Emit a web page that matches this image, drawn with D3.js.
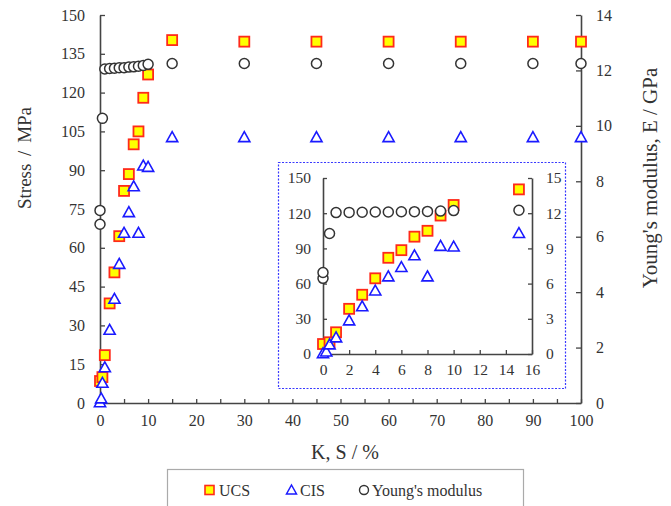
<!DOCTYPE html>
<html><head><meta charset="utf-8">
<script src="https://cdn.jsdelivr.net/npm/d3@7"></script>
<style>
html,body{margin:0;padding:0;background:#fff;}
svg{display:block;}
svg text{font-family:"Liberation Serif","Times New Roman",serif !important;fill:#333;}
</style></head>
<body>
<script>
// ---- data ----
const ucsK = [0, 0.5, 1, 2, 3, 4, 5, 6, 7, 8, 9, 10, 15, 30, 45, 60, 75, 90, 100];
const ucsV = [8.5, 10, 18.5, 38.5, 50.5, 64.5, 82, 88.5, 100, 105, 118, 127, 140.3, 139.7, 139.7, 139.7, 139.7, 139.7, 139.7];
const cisK = [0, 0.25, 0.5, 1, 2, 3, 4, 5, 6, 7, 8, 9, 10, 15, 30, 45, 60, 75, 90, 100];
const cisV = [0, 1.5, 7.5, 13.5, 28, 40, 53.5, 65.5, 73.5, 83.5, 65.5, 91.5, 91, 102.5, 102.5, 102.5, 102.5, 102.5, 102.5, 102.5];
const eK = [0, 0, 0.5, 1, 2, 3, 4, 5, 6, 7, 8, 9, 10, 15, 30, 45, 60, 75, 90, 100];
const eV = [6.45, 6.95, 10.27, 12.05, 12.07, 12.08, 12.1, 12.1, 12.12, 12.13, 12.15, 12.18, 12.22, 12.25, 12.25, 12.25, 12.25, 12.25, 12.25, 12.25];
const xTicksMain = [0, 10, 20, 30, 40, 50, 60, 70, 80, 90, 100];
const yTicksMain = [0, 15, 30, 45, 60, 75, 90, 105, 120, 135, 150];
const rTicksMain = [0, 2, 4, 6, 8, 10, 12, 14];
const xTicksInset = [0, 2, 4, 6, 8, 10, 12, 14, 16];
const yTicksInset = [0, 30, 60, 90, 120, 150];
const rTicksInset = [0, 3, 6, 9, 12, 15];
const legendLabels = ["UCS", "CIS", "Young's modulus"];
const xTitle = "K, S / %";
const yTitle = "Stress / MPa";
const rTitle = "Young's modulus, E / GPa";

const W = 671, H = 506;
const SERIF = '"Liberation Serif","Times New Roman",serif';
const svg = d3.select("body").append("svg").attr("width", W).attr("height", H)
  .style("font-family", SERIF);

const ucs = ucsK.map((k, i) => ({k, v: ucsV[i]}));
const cis = cisK.map((k, i) => ({k, v: cisV[i]}));
const ym = eK.map((k, i) => ({k, v: eV[i]}));

const AX = "#444";
function styleAxis(g, fs) {
  g.attr("font-family", SERIF).style("font-family", SERIF);
  g.select(".domain").attr("stroke", AX).attr("stroke-width", 1.6);
  g.selectAll(".tick line").attr("stroke", AX).attr("stroke-width", 1.3);
  g.selectAll(".tick text").attr("font-size", fs).style("font-size", fs + "px").attr("fill", "#333")
    .style("font-family", SERIF);
}

function markers(g, x, yl, yr, s) {
  const dom = x.domain()[1];
  g.append("g").selectAll("rect").data(ucs.filter(d => d.k <= dom)).join("rect")
    .attr("x", d => x(d.k) - s / 2).attr("y", d => yl(d.v) - s / 2)
    .attr("width", s).attr("height", s)
    .attr("fill", "#ffff00").attr("stroke", "#ff2a1a").attr("stroke-width", 1.8);
  const t = s * 0.62;
  g.append("g").selectAll("path").data(cis.filter(d => d.k <= dom)).join("path")
    .attr("d", d => {
      const cx = x(d.k), cy = yl(d.v);
      return `M${cx},${cy - t}L${cx + t * 0.9},${cy + t * 0.6}L${cx - t * 0.9},${cy + t * 0.6}Z`;
    })
    .attr("fill", "#fff").attr("stroke", "#1a1aff").attr("stroke-width", 1.6);
  g.append("g").selectAll("circle").data(ym.filter(d => d.k <= dom)).join("circle")
    .attr("cx", d => x(d.k)).attr("cy", d => yr(d.v)).attr("r", s * 0.5)
    .attr("fill", "#fff").attr("stroke", "#333").attr("stroke-width", 1.5);
}

// ---- main chart ----
const x = d3.scaleLinear().domain([0, 100]).range([100, 581]);
const yL = d3.scaleLinear().domain([0, 150]).range([403, 15]);
const yR = d3.scaleLinear().domain([0, 14]).range([403, 15]);

const gx = svg.append("g").attr("transform", `translate(0,${yL(0)})`)
  .call(d3.axisBottom(x).tickValues(d3.range(0, 101, 5)).tickSize(-4).tickSizeOuter(0).tickPadding(12)
    .tickFormat(d => xTicksMain.includes(d) ? d : ""));
styleAxis(gx, 16);
const gy = svg.append("g").attr("transform", `translate(${x(0)},0)`)
  .call(d3.axisLeft(yL).tickValues(yTicksMain).tickSize(-5).tickSizeOuter(0).tickPadding(15));
styleAxis(gy, 16);
const gr = svg.append("g").attr("transform", `translate(${x(100)},0)`)
  .call(d3.axisRight(yR).tickValues(rTicksMain).tickSize(-5).tickSizeOuter(0).tickPadding(15));
styleAxis(gr, 16);

markers(svg.append("g"), x, yL, yR, 10);

// ---- inset ----
svg.append("rect").attr("x", 278.5).attr("y", 162.5).attr("width", 287).attr("height", 226)
  .attr("fill", "#fff").attr("stroke", "#3a3aff").attr("stroke-width", 1.2).attr("stroke-dasharray", "2,1.5");
const xi = d3.scaleLinear().domain([0, 16]).range([323, 532]);
const yiL = d3.scaleLinear().domain([0, 150]).range([354, 178]);
const yiR = d3.scaleLinear().domain([0, 15]).range([354, 178]);
const gix = svg.append("g").attr("transform", `translate(0,${yiL(0)})`)
  .call(d3.axisBottom(xi).tickValues(xTicksInset).tickSize(-4).tickSizeOuter(0).tickPadding(10));
styleAxis(gix, 15.5);
const giy = svg.append("g").attr("transform", `translate(${xi(0)},0)`)
  .call(d3.axisLeft(yiL).tickValues(yTicksInset).tickSize(-4).tickSizeOuter(0).tickPadding(12));
styleAxis(giy, 15.5);
const gir = svg.append("g").attr("transform", `translate(${xi(16)},0)`)
  .call(d3.axisRight(yiR).tickValues(rTicksInset).tickSize(-4).tickSizeOuter(0).tickPadding(14));
styleAxis(gir, 15.5);
markers(svg.append("g"), xi, yiL, yiR, 10);

// ---- titles ----
svg.append("text").attr("x", 345).attr("y", 459).attr("text-anchor", "middle")
  .style("font-size", "20px").text(xTitle);
svg.append("text").attr("transform", "translate(31,158) rotate(-90)").attr("text-anchor", "middle")
  .style("font-size", "19px").attr("word-spacing", 3).text(yTitle);
svg.append("text").attr("transform", "translate(657,178) rotate(-90)").attr("text-anchor", "middle")
  .style("font-size", "21px").text(rTitle);

// ---- legend ----
svg.append("rect").attr("x", 167.5).attr("y", 469.5).attr("width", 356).attr("height", 50)
  .attr("fill", "#fff").attr("stroke", "#aaa").attr("stroke-width", 1.2);
const ly = 490;
const lg = svg.append("g");
lg.append("rect").attr("x", 205).attr("y", ly - 4.5).attr("width", 9).attr("height", 9)
  .attr("fill", "#ffff00").attr("stroke", "#ff2a1a").attr("stroke-width", 1.6);
lg.append("path").attr("d", `M291.5,${ly - 5}L296.5,${ly + 4}L286.5,${ly + 4}Z`)
  .attr("fill", "#fff").attr("stroke", "#1a1aff").attr("stroke-width", 1.5);
lg.append("circle").attr("cx", 364).attr("cy", ly).attr("r", 4.5)
  .attr("fill", "#fff").attr("stroke", "#333").attr("stroke-width", 1.4);
const lx = [219, 300, 372];
legendLabels.forEach((t, i) => {
  lg.append("text").attr("x", lx[i]).attr("y", ly + 5.5).style("font-size", "16px").text(t);
});
</script>
</body></html>
